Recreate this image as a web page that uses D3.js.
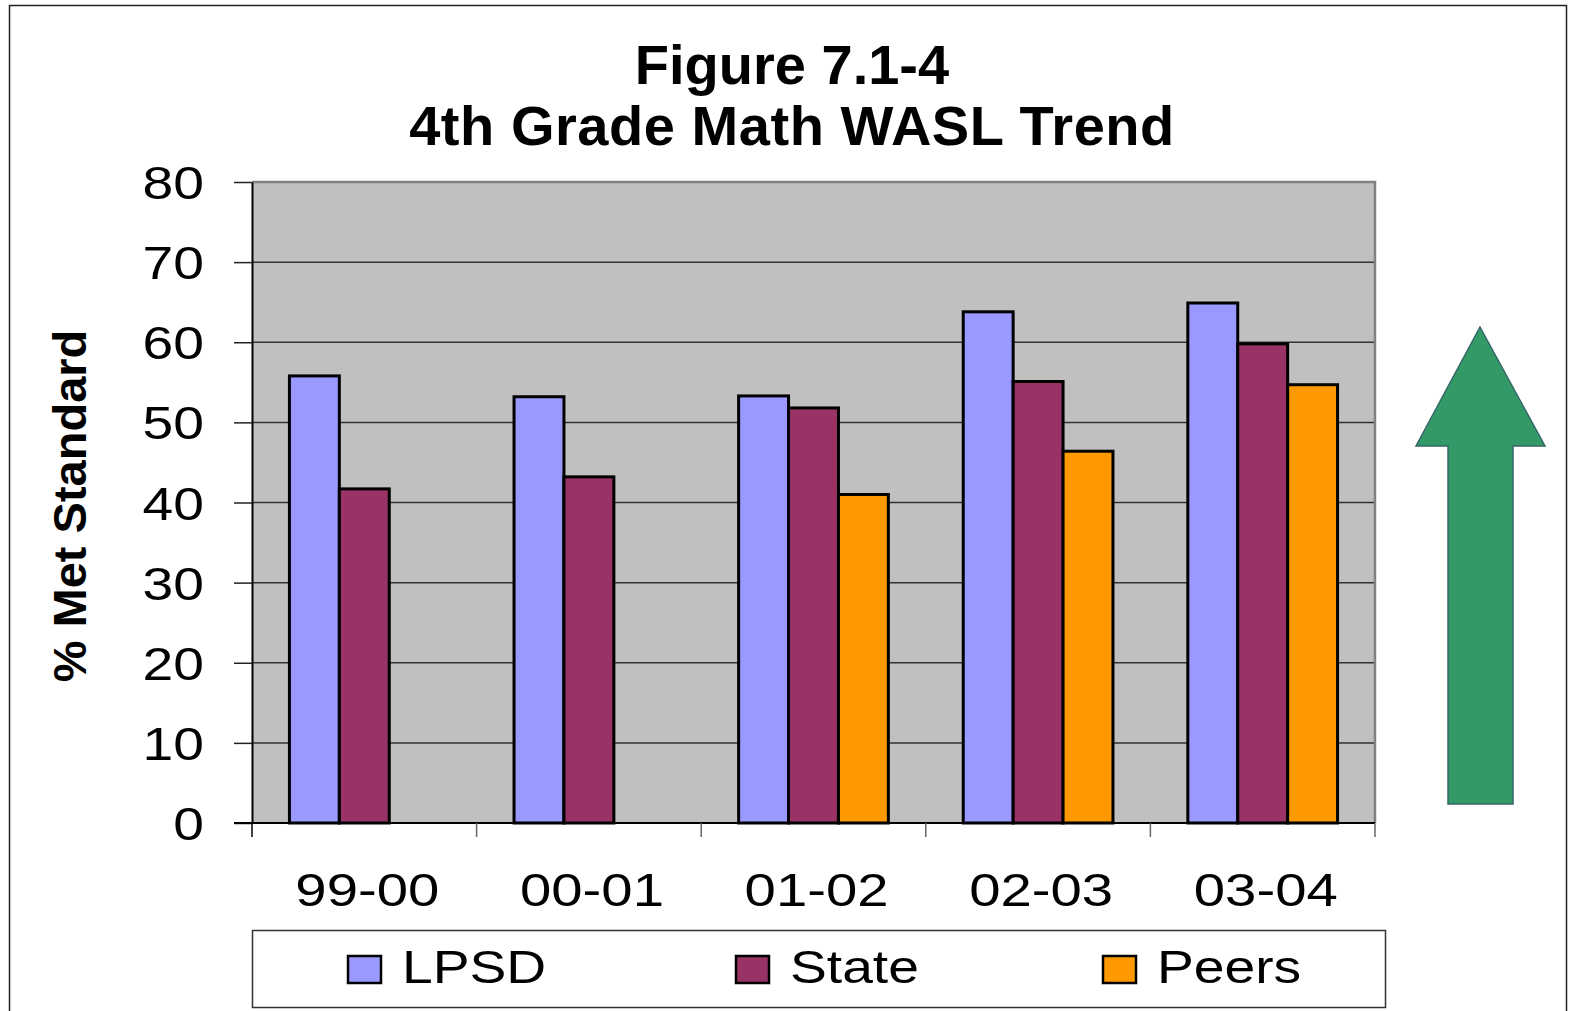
<!DOCTYPE html>
<html><head><meta charset="utf-8">
<script src="https://cdn.jsdelivr.net/npm/d3@7"></script>
<style>html,body{margin:0;padding:0;background:#fff;overflow:hidden}svg{display:block}</style>
</head><body><script>
// ---- data ----
const categories = ["99-00", "00-01", "01-02", "02-03", "03-04"];
const seriesNames = ["LPSD", "State", "Peers"];
const lpsdValues = [55.8, 53.2, 53.3, 63.8, 64.9];
const stateValues = [41.7, 43.2, 51.8, 55.1, 59.8];
const peersValues = [null, null, 41.0, 46.4, 54.7];
const yTickValues = [0, 10, 20, 30, 40, 50, 60, 70, 80];
const seriesColors = ["#9999FF", "#993366", "#FF9900"];
const titleLines = ["Figure 7.1-4", "4th Grade Math WASL Trend"];
const yAxisTitle = "% Met Standard";

const seriesValues = [lpsdValues, stateValues, peersValues];

// ---- layout ----
const W = 1573, H = 1011;
const plot = {left: 252, right: 1375, top: 182, bottom: 823};
const SX = 1.2; // horizontal stretch of text

const svg = d3.select("body").append("svg").attr("width", W).attr("height", H);

// outer border
svg.append("rect").attr("x", 9.5).attr("y", 5.5).attr("width", 1557).attr("height", 1030)
  .attr("fill", "none").attr("stroke", "#222").attr("stroke-width", 1.5);

// title
svg.append("g").selectAll("text").data(titleLines).join("text")
  .attr("x", 792).attr("y", (d, i) => 84 + i * 61)
  .attr("text-anchor", "middle")
  .style("font-family", "'Liberation Sans', Arial, sans-serif")
  .style("font-weight", "bold").style("font-size", "56px")
  .style("letter-spacing", (d, i) => i === 1 ? "0.55px" : "0px")
  .attr("fill", "#000")
  .text(d => d);

// scales
const x = d3.scaleBand().domain(categories).range([plot.left, plot.right]).paddingInner(0).paddingOuter(0);
const xs = d3.scaleBand().domain(seriesNames).range([0, x.bandwidth()]).paddingInner(0).paddingOuter(0.75);
const y = d3.scaleLinear().domain([0, 80]).range([plot.bottom, plot.top]);

// plot background
svg.append("rect").attr("x", plot.left).attr("y", plot.top)
  .attr("width", plot.right - plot.left).attr("height", plot.bottom - plot.top)
  .attr("fill", "#C0C0C0");

// gridlines
svg.append("g").selectAll("line").data(yTickValues.filter(v => v > 0 && v < 80)).join("line")
  .attr("x1", plot.left).attr("x2", plot.right)
  .attr("y1", d => y(d)).attr("y2", d => y(d))
  .attr("stroke", "#333").attr("stroke-width", 1.5);

// plot border top/right
svg.append("path")
  .attr("d", `M${plot.left},${plot.top}H${plot.right}V${plot.bottom}`)
  .attr("fill", "none").attr("stroke", "#808080").attr("stroke-width", 2.5);

// bars
const barData = [];
seriesNames.forEach((s, si) => {
  categories.forEach((c, ci) => {
    const v = seriesValues[si][ci];
    if (v != null) barData.push({s, si, c, v});
  });
});
svg.append("g").selectAll("rect").data(barData).join("rect")
  .attr("x", d => x(d.c) + xs(d.s))
  .attr("y", d => y(d.v))
  .attr("width", xs.bandwidth())
  .attr("height", d => y(0) - y(d.v))
  .attr("fill", d => seriesColors[d.si])
  .attr("stroke", "#000").attr("stroke-width", 3);

// y axis
const yAxis = svg.append("g").attr("transform", `translate(${plot.left},0)`)
  .call(d3.axisLeft(y).tickValues(yTickValues).tickSize(18).tickSizeOuter(0).tickFormat(d3.format("d")));
yAxis.select(".domain").attr("stroke", "#000").attr("stroke-width", 2);
yAxis.selectAll(".tick line").attr("stroke", "#222").attr("stroke-width", 1.5);
yAxis.selectAll(".tick text")
  .attr("x", -48 / SX).attr("dy", "0.36em")
  .attr("transform", `scale(${SX},1)`)
  .style("font-family", "'Liberation Sans', Arial, sans-serif")
  .style("font-size", "46px").attr("fill", "#000");

// x axis
const xAxis = svg.append("g").attr("transform", `translate(0,${plot.bottom})`)
  .call(d3.axisBottom(x).tickSize(0).tickSizeOuter(0));
xAxis.select(".domain").attr("d", `M${plot.left - 18},0H${plot.right}`).attr("stroke", "#000").attr("stroke-width", 2);
xAxis.selectAll(".tick text")
  .attr("y", 83).attr("dy", 0)
  .attr("x", 3 / SX)
  .attr("transform", `scale(${SX * 1.02},1)`)
  .style("font-family", "'Liberation Sans', Arial, sans-serif")
  .style("font-size", "46px").attr("fill", "#000");
// category boundary ticks
const bounds = categories.map(c => x(c)).concat([plot.right]);
xAxis.append("g").selectAll("line").data(bounds).join("line")
  .attr("x1", d => d).attr("x2", d => d).attr("y1", 0).attr("y2", 14)
  .attr("stroke", (d, i) => i === 0 ? "#000" : "#666").attr("stroke-width", 1.5);

// y axis title
svg.append("text")
  .attr("transform", "translate(86,506) rotate(-90)")
  .attr("text-anchor", "middle")
  .style("font-family", "'Liberation Sans', Arial, sans-serif")
  .style("font-weight", "bold").style("font-size", "47px")
  .attr("fill", "#000").text(yAxisTitle);

// legend
const legend = svg.append("g");
legend.append("rect").attr("x", 252.5).attr("y", 930.5).attr("width", 1133).attr("height", 77)
  .attr("fill", "#fff").attr("stroke", "#333").attr("stroke-width", 1.5);
const legendX = [347, 735, 1102];
const items = legend.selectAll("g.item").data(seriesNames).join("g").attr("class", "item")
  .attr("transform", (d, i) => `translate(${legendX[i]},0)`);
items.append("rect").attr("x", 1).attr("y", 956).attr("width", 33).attr("height", 27)
  .attr("fill", (d, i) => seriesColors[i]).attr("stroke", "#000").attr("stroke-width", 2.5);
items.append("text")
  .attr("x", 55 / SX).attr("y", 983)
  .attr("transform", `scale(${SX},1)`)
  .style("font-family", "'Liberation Sans', Arial, sans-serif")
  .style("font-size", "46px").attr("fill", "#000")
  .text(d => d);

// arrow
const arrow = [[1480, 327], [1545, 446], [1513, 446], [1513, 804], [1448, 804], [1448, 446], [1416, 446]];
svg.append("path").attr("d", d3.line()(arrow) + "Z")
  .attr("fill", "#339966").attr("stroke", "#35666A").attr("stroke-width", 1.5);
</script></body></html>
